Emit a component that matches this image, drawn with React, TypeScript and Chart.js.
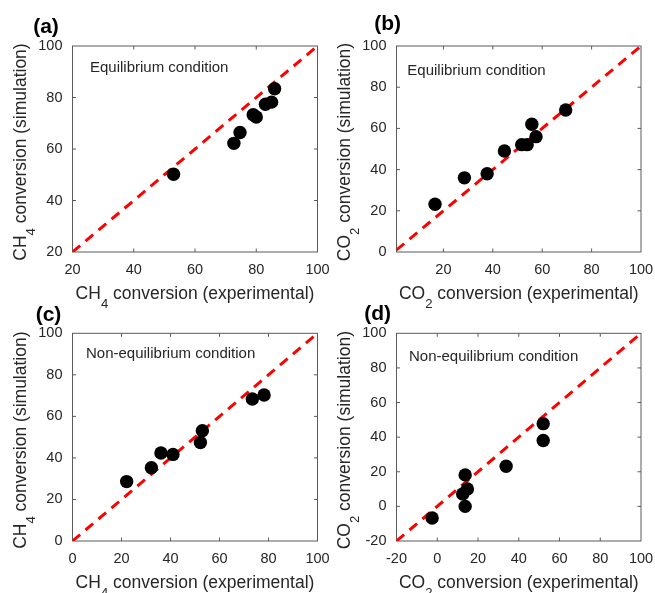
import { useEffect, useRef } from 'react';
import { Chart, registerables } from 'chart.js';

Chart.register(...registerables);

const PAGE_W = 655;
const PAGE_H = 593;

// (a) CH4 conversion, equilibrium condition
const ch4EqExperimental = [53, 72.7, 74.7, 79, 80, 83, 85, 86];
const ch4EqSimulation = [50.2, 62.2, 66.4, 73.3, 72.4, 77.4, 78.2, 83.4];

// (b) CO2 conversion, equilibrium condition
const co2EqExperimental = [16.6, 28.5, 37.7, 44.7, 51.7, 53.9, 55.8, 57.5, 69.5];
const co2EqSimulation = [23.2, 36.0, 38.0, 49.0, 52.1, 52.1, 62.0, 56.0, 68.9];

// (c) CH4 conversion, non-equilibrium condition
const ch4NonEqExperimental = [22.1, 32.2, 36.1, 41.0, 52.2, 53.0, 73.4, 78.2];
const ch4NonEqSimulation = [28.6, 35.3, 42.4, 41.7, 47.4, 53.1, 68.4, 70.3];

// (d) CO2 conversion, non-equilibrium condition
const co2NonEqExperimental = [-2.5, 12.5, 13.7, 13.7, 14.8, 33.8, 52.0, 52.0];
const co2NonEqSimulation = [-6.7, 7.2, 0.0, 18.2, 10.1, 23.2, 47.8, 38.1];

// Tick values
const ticks20to100 = [20, 40, 60, 80, 100];
const ticks0to100 = [0, 20, 40, 60, 80, 100];
const ticksMinus20to100 = [-20, 0, 20, 40, 60, 80, 100];

const AXIS_MAX = 100;

const FONT = '"Liberation Sans", Arial, Helvetica, sans-serif';
const TEXT_COLOR = '#262626';
const FRAME_COLOR = '#5a5a5a';
const PARITY_COLOR = '#ff0000';
const TICK_FONT = 14.5;
const TITLE_FONT = 17.5;
const NOTE_FONT = 15;
const LETTER_FONT = 21;
const TICK_LEN = 3.5;

type Panel = {
  letter: string;
  note: string;
  species: [string, string];
  experimental: number[];
  simulation: number[];
  xMin: number;
  yMin: number;
  xTicks: number[];
  yTicks: number[];
  area: { left: number; right: number; top: number; bottom: number };
  letterAt: [number, number];
  noteAt: [number, number];
};

const PANELS: Panel[] = [
  {
    letter: '(a)',
    note: 'Equilibrium condition',
    species: ['CH', '4'],
    experimental: ch4EqExperimental,
    simulation: ch4EqSimulation,
    xMin: 20,
    yMin: 20,
    xTicks: ticks20to100,
    yTicks: ticks20to100,
    area: { left: 72.5, right: 317.5, top: 46, bottom: 252 },
    letterAt: [46, 27],
    noteAt: [90, 71.7],
  },
  {
    letter: '(b)',
    note: 'Equilibrium condition',
    species: ['CO', '2'],
    experimental: co2EqExperimental,
    simulation: co2EqSimulation,
    xMin: 1,
    yMin: 0,
    xTicks: ticks20to100,
    yTicks: ticks0to100,
    area: { left: 396.5, right: 641, top: 46, bottom: 252 },
    letterAt: [387.7, 24],
    noteAt: [407.3, 75],
  },
  {
    letter: '(c)',
    note: 'Non-equilibrium condition',
    species: ['CH', '4'],
    experimental: ch4NonEqExperimental,
    simulation: ch4NonEqSimulation,
    xMin: 0,
    yMin: 0,
    xTicks: ticks0to100,
    yTicks: ticks0to100,
    area: { left: 72.5, right: 317.5, top: 333.3, bottom: 541 },
    letterAt: [48.5, 315.5],
    noteAt: [86, 357.7],
  },
  {
    letter: '(d)',
    note: 'Non-equilibrium condition',
    species: ['CO', '2'],
    experimental: co2NonEqExperimental,
    simulation: co2NonEqSimulation,
    xMin: -20,
    yMin: -20,
    xTicks: ticksMinus20to100,
    yTicks: ticksMinus20to100,
    area: { left: 396.5, right: 641, top: 333.3, bottom: 541 },
    letterAt: [377.7, 314.2],
    noteAt: [409, 360.7],
  },
];

// Draws "CH₄ conversion (...)" style text with a real lowered subscript, centred on cx.
function drawSubscriptTitle(
  ctx: CanvasRenderingContext2D,
  species: [string, string],
  rest: string,
  cx: number,
  baseline: number,
) {
  const mainFont = `${TITLE_FONT}px ${FONT}`;
  const subFont = `${TITLE_FONT * 0.75}px ${FONT}`;
  ctx.font = mainFont;
  const w1 = ctx.measureText(species[0]).width;
  const w3 = ctx.measureText(rest).width;
  ctx.font = subFont;
  const w2 = ctx.measureText(species[1]).width;
  let x = cx - (w1 + w2 + w3) / 2;
  ctx.textAlign = 'left';
  ctx.textBaseline = 'alphabetic';
  ctx.fillStyle = TEXT_COLOR;
  ctx.font = mainFont;
  ctx.fillText(species[0], x, baseline);
  x += w1;
  ctx.font = subFont;
  ctx.fillText(species[1], x, baseline + TITLE_FONT * 0.52);
  x += w2;
  ctx.font = mainFont;
  ctx.fillText(rest, x, baseline);
}

function makeDecorations(panel: Panel) {
  return {
    id: 'panelDecorations',
    beforeDatasetsDraw(chart: Chart) {
      const { ctx, chartArea: a, scales } = chart;
      const xs = scales.x;
      const ys = scales.y;
      ctx.save();
      ctx.strokeStyle = FRAME_COLOR;
      ctx.lineWidth = 1;
      ctx.strokeRect(a.left, a.top, a.right - a.left, a.bottom - a.top);
      ctx.beginPath();
      for (const v of panel.xTicks) {
        const px = xs.getPixelForValue(v);
        if (px <= a.left + 1 || px >= a.right - 1) continue;
        ctx.moveTo(px, a.bottom);
        ctx.lineTo(px, a.bottom - TICK_LEN);
        ctx.moveTo(px, a.top);
        ctx.lineTo(px, a.top + TICK_LEN);
      }
      for (const v of panel.yTicks) {
        const py = ys.getPixelForValue(v);
        if (py <= a.top + 1 || py >= a.bottom - 1) continue;
        ctx.moveTo(a.left, py);
        ctx.lineTo(a.left + TICK_LEN, py);
        ctx.moveTo(a.right, py);
        ctx.lineTo(a.right - TICK_LEN, py);
      }
      ctx.stroke();
      ctx.restore();
    },
    afterDraw(chart: Chart) {
      const { ctx, chartArea: a } = chart;
      ctx.save();
      // panel letter
      ctx.fillStyle = '#000';
      ctx.font = `bold ${LETTER_FONT}px ${FONT}`;
      ctx.textAlign = 'center';
      ctx.textBaseline = 'middle';
      ctx.fillText(panel.letter, panel.letterAt[0], panel.letterAt[1]);
      // condition note
      ctx.fillStyle = TEXT_COLOR;
      ctx.font = `${NOTE_FONT}px ${FONT}`;
      ctx.textAlign = 'left';
      ctx.textBaseline = 'alphabetic';
      ctx.fillText(panel.note, panel.noteAt[0], panel.noteAt[1]);
      // x axis title
      drawSubscriptTitle(
        ctx,
        panel.species,
        ' conversion (experimental)',
        (a.left + a.right) / 2,
        a.bottom + 46.5,
      );
      // y axis title, rotated
      ctx.save();
      ctx.translate(a.left - 47, (a.top + a.bottom) / 2 + 3);
      ctx.rotate(-Math.PI / 2);
      drawSubscriptTitle(ctx, panel.species, ' conversion (simulation)', 0, 0);
      ctx.restore();
      ctx.restore();
    },
  };
}

function zeroPadding(s: any) {
  s.paddingLeft = 0;
  s.paddingRight = 0;
  s.paddingTop = 0;
  s.paddingBottom = 0;
}

function PanelChart({ panel }: { panel: Panel }) {
  const ref = useRef<HTMLCanvasElement>(null);

  useEffect(() => {
    const canvas = ref.current;
    if (!canvas) return;
    const points = panel.experimental.map((x, i) => ({ x, y: panel.simulation[i] }));
    const diagStart = Math.max(panel.xMin, panel.yMin);
    const parity = [
      { x: diagStart, y: diagStart },
      { x: AXIS_MAX, y: AXIS_MAX },
    ];
    const tickFont = { family: FONT, size: TICK_FONT };
    const { area } = panel;

    const chart = new Chart(canvas, {
      type: 'scatter',
      data: {
        datasets: [
          {
            data: points,
            backgroundColor: '#000',
            borderColor: '#000',
            pointRadius: 6.7,
            pointBorderWidth: 0,
            showLine: false,
          },
          {
            data: parity,
            showLine: true,
            borderColor: PARITY_COLOR,
            borderWidth: 3,
            borderDash: [10, 7],
            pointRadius: 0,
            fill: false,
          },
        ],
      },
      options: {
        responsive: false,
        animation: false,
        devicePixelRatio: 1,
        events: [],
        layout: {
          padding: { left: 0, top: area.top, right: PAGE_W - area.right, bottom: 0 },
        },
        plugins: {
          legend: { display: false },
          tooltip: { enabled: false },
        },
        scales: {
          x: {
            type: 'linear',
            position: 'bottom',
            min: panel.xMin,
            max: AXIS_MAX,
            grid: { display: false, drawTicks: false },
            border: { display: false },
            ticks: { color: TEXT_COLOR, font: tickFont, padding: 9, maxRotation: 0, autoSkip: false },
            afterBuildTicks: (s: any) => {
              s.ticks = panel.xTicks.map((value) => ({ value }));
            },
            afterFit: (s: any) => {
              s.height = PAGE_H - area.bottom;
              zeroPadding(s);
            },
          },
          y: {
            type: 'linear',
            position: 'left',
            min: panel.yMin,
            max: AXIS_MAX,
            grid: { display: false, drawTicks: false },
            border: { display: false },
            ticks: { color: TEXT_COLOR, font: tickFont, padding: 10, autoSkip: false },
            afterBuildTicks: (s: any) => {
              s.ticks = panel.yTicks.map((value) => ({ value }));
            },
            afterFit: (s: any) => {
              s.width = area.left;
              zeroPadding(s);
            },
          },
        },
      },
      plugins: [makeDecorations(panel)],
    } as any);

    return () => chart.destroy();
  }, [panel]);

  return (
    <canvas
      ref={ref}
      width={PAGE_W}
      height={PAGE_H}
      style={{ position: 'absolute', left: 0, top: 0 }}
    />
  );
}

export default function App() {
  return (
    <div
      style={{
        position: 'fixed',
        left: 0,
        top: 0,
        width: PAGE_W,
        height: PAGE_H,
        background: '#fff',
        overflow: 'hidden',
      }}
    >
      {PANELS.map((p) => (
        <PanelChart key={p.letter} panel={p} />
      ))}
    </div>
  );
}
